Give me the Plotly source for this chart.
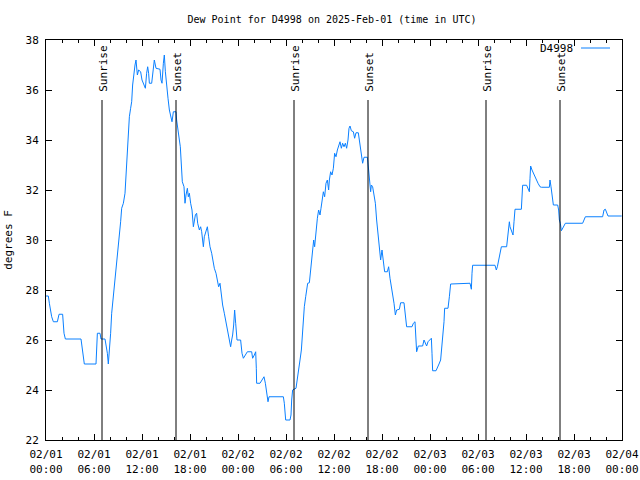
import plotly.graph_objects as go
import pandas as pd

# Hours since 2025-02-01 00:00 UTC and dew point values (F)
hours = [0.0, 0.29, 0.42, 0.71, 0.92, 1.42, 1.63, 2.08, 2.25, 2.42, 4.375, 4.54, 4.79, 6.25, 6.33, 6.42,
         6.75, 6.875, 7.375, 7.5, 7.67, 7.79, 7.92, 8.08, 8.21, 8.33, 8.5, 8.625, 8.83, 9.04, 9.17, 9.33,
         9.46, 9.67, 9.875, 10.0, 10.17, 10.29, 10.42, 10.58, 10.71, 10.83, 11.0, 11.125, 11.25, 11.42,
         11.58, 11.83, 12.0, 12.25, 12.42, 12.58, 12.71, 12.83, 12.92, 13.21, 13.42, 13.54, 13.75, 14.25,
         14.375, 14.5, 14.67, 14.79, 14.92, 15.08, 15.25, 15.42, 15.58, 15.75, 15.92, 16.25, 16.33, 16.5,
         16.67, 16.79, 16.92, 17.04, 17.25, 17.375, 17.5, 17.67, 17.79,
         17.92, 18.08, 18.25, 18.42, 18.54, 18.67, 18.83, 18.96, 19.17, 19.33, 19.46, 19.67, 19.79, 20.0,
         20.17, 20.33, 20.5, 20.71, 20.92, 21.04, 21.25, 21.42, 21.58, 21.75, 21.92, 22.08, 22.29, 22.5,
         22.67, 22.875, 23.08, 23.21, 23.33, 23.46, 23.58, 23.71, 23.875, 24.33, 24.5, 24.67, 24.92, 25.17,
         25.71, 25.83, 26.04, 26.21, 26.29, 26.33, 26.75, 26.96, 27.25, 27.42, 27.58, 27.75, 27.875, 29.67,
         29.79, 29.875, 29.96, 30.5, 30.625, 30.71, 30.83, 31.25, 31.42, 31.58, 31.75, 31.92, 32.04, 32.17,
         32.29, 32.46, 32.58, 32.71, 32.92, 33.08, 33.21, 33.33, 33.46, 33.58, 33.75, 33.92, 34.08, 34.25,
         34.375, 34.54, 34.67, 34.83, 35.0, 35.17, 35.33, 35.42, 35.58, 35.75, 35.92, 36.08, 36.25, 36.42,
         36.58, 36.75, 36.92, 37.08, 37.25, 37.42, 37.58, 37.75, 37.875, 38.0, 38.17, 38.42, 38.58, 38.75,
         39.04, 39.25, 39.42, 39.58, 39.75, 40.17, 40.33, 40.42, 40.58, 40.67, 40.83, 41.0, 41.17, 41.33,
         41.5, 41.67, 41.83, 42.0, 42.17, 42.33, 42.67, 42.83, 43.0, 43.17, 43.33, 43.5, 43.67, 43.83,
         44.17, 44.33, 44.75, 44.92, 45.08, 45.75, 45.92, 46.125, 46.25, 46.33, 46.54, 47.08, 47.25, 47.42,
         47.58, 47.75, 48.0, 48.17, 48.25, 48.33, 48.75, 48.92, 49.125, 49.33, 49.46, 49.58, 49.75, 49.83,
         50.25, 50.42, 50.58, 53.0, 53.08, 53.17, 53.25, 53.33, 56.125, 56.29, 56.42, 56.58, 56.75, 56.92,
         57.58, 57.71, 57.83, 57.92, 58.0, 58.17, 58.375, 58.5, 58.625, 59.42, 59.5, 59.58, 60.08, 60.25,
         60.42, 60.5, 60.58, 60.75, 60.92, 61.08, 61.33, 61.5, 61.75, 61.92, 62.92, 63.0, 63.125, 63.25,
         63.42, 63.96, 64.08, 64.17, 64.29, 64.42, 64.58, 64.75, 64.92, 67.08, 67.25, 67.42, 69.58, 69.75,
         69.92, 70.08, 70.25, 71.96]
dewpoint = [27.76, 27.76, 27.47, 26.93, 26.73, 26.73, 27.03, 27.03, 26.27, 26.04, 26.04, 25.6, 25.04, 25.04, 25.67, 26.27,
            26.27, 26.04, 26.04, 25.84, 25.47, 25.04, 25.47, 26.27, 27.07, 27.47, 27.73, 28.27, 29.0, 29.73, 30.07, 30.73,
            31.27, 31.47, 31.87, 32.67, 33.6, 34.47, 34.93, 35.27, 35.53, 36.2, 36.73, 37.0, 37.2, 36.6,
            36.8, 36.73, 36.4, 36.2, 36.07, 36.67, 36.93, 36.67, 36.27, 36.27, 36.93, 37.2, 36.87, 36.83,
            36.4, 36.27, 37.07, 37.4, 36.73, 36.07, 35.67, 35.2, 34.93, 34.73, 35.13, 35.13, 34.8, 34.27,
            34.0, 33.73, 33.07, 32.33, 32.13, 31.47, 31.8, 32.07, 31.73,
            31.87, 31.47, 31.2, 30.53, 30.8, 31.0, 31.07, 30.67, 30.4, 30.53, 30.33, 29.73, 30.13, 30.4,
            30.53, 30.13, 29.73, 29.47, 29.07, 28.87, 28.67, 28.4, 28.13, 28.27, 27.73, 27.4, 27.07, 26.73,
            26.53, 26.13, 25.73, 26.0, 26.2, 26.6, 27.2, 26.67, 26.0, 26.0, 25.47, 25.27, 25.4, 25.53,
            25.53, 25.27, 25.4, 25.53, 24.87, 24.27, 24.27, 24.4, 24.53, 24.27, 23.87, 23.53, 23.73, 23.73,
            23.47, 23.13, 22.8, 22.8, 23.0, 23.6, 24.0, 24.07, 24.53, 24.87, 25.2, 25.6, 26.27, 26.93,
            27.33, 27.73, 28.07, 28.27, 28.29, 28.8, 29.27, 29.73, 30.0, 29.73, 30.4, 30.87, 31.2, 31.0,
            31.27, 31.67, 31.93, 31.73, 32.27, 32.4, 32.0, 32.4, 32.73, 32.6, 32.87, 33.47, 33.33, 33.6,
            33.73, 33.93, 33.67, 33.87, 33.73, 33.87, 33.67, 34.0, 34.47, 34.56, 34.37, 34.33, 34.07, 34.29,
            34.29, 33.87, 33.4, 33.07, 33.31, 33.31, 32.8, 32.4, 31.93, 32.2, 32.13, 31.8, 31.47, 30.8,
            30.33, 29.67, 29.2, 29.6, 29.2, 28.73, 28.73, 28.93, 28.47, 28.13, 27.87, 27.47, 27.0, 27.2,
            27.23, 27.49, 27.49, 27.07, 26.53, 26.53, 26.67, 26.73, 26.2, 25.53, 25.76, 25.76, 26.0, 25.87,
            25.76, 25.93, 26.0, 26.07, 25.47, 24.77, 24.77, 24.87, 25.04, 25.2, 25.6, 26.07, 26.73, 27.27,
            27.27, 27.73, 28.24, 28.27, 28.13, 28.03, 28.67, 28.99, 28.99, 28.8, 28.93, 29.2, 29.47, 29.73,
            29.73, 30.13, 30.6, 30.73, 30.53, 30.4, 30.2, 30.73, 31.23, 31.23, 31.73, 32.19, 32.19, 32.07,
            31.93, 32.47, 32.96, 32.8, 32.67, 32.53, 32.4, 32.27, 32.13, 32.11, 32.11, 32.4, 32.13, 31.87,
            31.4, 31.4, 31.2, 30.8, 30.67, 30.37, 30.49, 30.6, 30.67, 30.67, 30.8, 30.93, 30.93, 31.2,
            31.23, 31.13, 30.96, 30.96]

# Sun events (hours since start) and labels
sun_hours = [7.0, 16.25, 31.0, 40.25, 55.0, 64.25]
sun_labels = ["Sunrise", "Sunset", "Sunrise", "Sunset", "Sunrise", "Sunset"]

# Axis tick labels
tick_hours = [0, 6, 12, 18, 24, 30, 36, 42, 48, 54, 60, 66, 72]
tick_labels = ["02/01<br>00:00", "02/01<br>06:00", "02/01<br>12:00", "02/01<br>18:00",
               "02/02<br>00:00", "02/02<br>06:00", "02/02<br>12:00", "02/02<br>18:00",
               "02/03<br>00:00", "02/03<br>06:00", "02/03<br>12:00", "02/03<br>18:00",
               "02/04<br>00:00"]
y_ticks = [22, 24, 26, 28, 30, 32, 34, 36, 38]

base = pd.Timestamp("2025-02-01 00:00")
to_t = lambda h: base + pd.Timedelta(hours=h)
times = [to_t(h) for h in hours]

LINE = "#0a80ff"
FONT = "DejaVu Sans Mono"
FS = 10

fig = go.Figure()
fig.add_trace(go.Scatter(x=times, y=dewpoint, mode="lines", name="D4998",
                         line=dict(color=LINE, width=1), showlegend=False))

for h, lab in zip(sun_hours, sun_labels):
    fig.add_shape(type="line", xref="x", yref="y", x0=to_t(h), x1=to_t(h), y0=22, y1=35.6,
                  line=dict(color="black", width=1))
    fig.add_annotation(x=to_t(h), y=35.85, xref="x", yref="y", text=lab, textangle=-90,
                       showarrow=False, xanchor="center", yanchor="bottom", xshift=2,
                       font=dict(family=FONT, size=FS + 1, color="black"))

# legend (gnuplot style: key text, then sample)
fig.add_annotation(x=(575 - 46) / 576, y=(440 - 48) / 400, xref="paper", yref="paper", text="D4998",
                   showarrow=False, xanchor="right", yanchor="middle",
                   font=dict(family=FONT, size=FS + 1, color="black"))
fig.add_shape(type="line", xref="paper", yref="paper", x0=(581 - 46) / 576, x1=(610 - 46) / 576,
              y0=(440 - 48) / 400, y1=(440 - 48) / 400, line=dict(color=LINE, width=1))

fig.update_layout(
    width=640, height=480,
    margin=dict(l=46, r=18, t=40, b=40, autoexpand=False),
    paper_bgcolor="white", plot_bgcolor="white",
    font=dict(family=FONT, size=FS, color="black"),
    title=dict(text="Dew Point for D4998 on 2025-Feb-01 (time in UTC)", x=332 / 640, xanchor="center",
               y=1 - 19 / 480, yanchor="middle", font=dict(family=FONT, size=FS, color="black")),
    showlegend=False,
)
fig.update_xaxes(
    range=[to_t(0), to_t(72)], tickvals=[to_t(h) for h in tick_hours], ticktext=tick_labels,
    ticks="inside", ticklen=6, tickcolor="black", showline=True, linecolor="black", linewidth=1,
    mirror="allticks", showgrid=False, zeroline=False, automargin=False, ticklabelstandoff=4,
    minor=dict(tickvals=[to_t(h) for h in range(0, 73, 2)], ticks="inside", ticklen=3, tickcolor="black"),
    tickfont=dict(family=FONT, size=FS + 1),
)
fig.update_yaxes(
    range=[22, 38], tickvals=y_ticks, ticks="inside", ticklen=6, tickcolor="black",
    showline=True, linecolor="black", linewidth=1, mirror="allticks", showgrid=False, zeroline=False,
    automargin=False, ticklabelstandoff=4,
    title=dict(text="degrees F", font=dict(family=FONT, size=FS + 1), standoff=10),
    tickfont=dict(family=FONT, size=FS + 1),
)

fig.write_html("out.html", config={"displayModeBar": False},
               post_script="document.body.style.margin='0';document.body.style.overflow='hidden';")
